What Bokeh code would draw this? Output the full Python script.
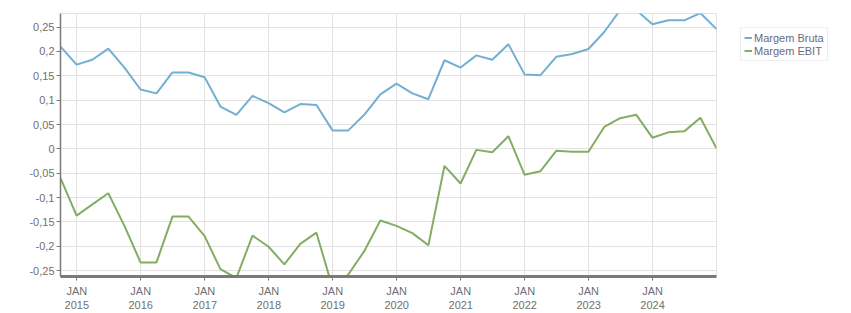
import pandas as pd
from bokeh.plotting import figure
from bokeh.layouts import row
from bokeh.models import (ColumnDataSource, Range1d, FixedTicker, Legend, LegendItem,
                          CustomJSTickFormatter)
from bokeh.embed import file_html
from bokeh.resources import INLINE

dates = ["2014-09-30", "2014-12-31",
         "2015-03-31", "2015-06-30", "2015-09-30", "2015-12-31",
         "2016-03-31", "2016-06-30", "2016-09-30", "2016-12-31",
         "2017-03-31", "2017-06-30", "2017-09-30", "2017-12-31",
         "2018-03-31", "2018-06-30", "2018-09-30", "2018-12-31",
         "2019-03-31", "2019-06-30", "2019-09-30", "2019-12-31",
         "2020-03-31", "2020-06-30", "2020-09-30", "2020-12-31",
         "2021-03-31", "2021-06-30", "2021-09-30", "2021-12-31",
         "2022-03-31", "2022-06-30", "2022-09-30", "2022-12-31",
         "2023-03-31", "2023-06-30", "2023-09-30", "2023-12-31",
         "2024-03-31", "2024-06-30", "2024-09-30", "2024-12-31"]

margem_bruta = [0.210, 0.173, 0.183, 0.206, 0.167, 0.122, 0.114, 0.157, 0.157, 0.147,
                0.087, 0.070, 0.109, 0.094, 0.075, 0.092, 0.090, 0.038, 0.038, 0.070,
                0.112, 0.134, 0.114, 0.102, 0.182, 0.167, 0.192, 0.183, 0.215, 0.153,
                0.151, 0.189, 0.195, 0.205, 0.240, 0.285, 0.285, 0.256, 0.264, 0.264,
                0.279, 0.246]

margem_ebit = [-0.060, -0.137, -0.114, -0.091, -0.158, -0.233, -0.233, -0.139, -0.139, -0.179,
               -0.247, -0.265, -0.178, -0.201, -0.237, -0.195, -0.172, -0.285, -0.258, -0.210,
               -0.147, -0.158, -0.173, -0.198, -0.035, -0.071, -0.002, -0.007, 0.026, -0.053,
               -0.046, -0.004, -0.006, -0.006, 0.045, 0.063, 0.070, 0.023, 0.034, 0.036,
               0.064, 0.001]

series_names = ["Margem Bruta", "Margem EBIT"]
series_cols = ["bruta", "ebit"]
series_colors = ["#74afd3", "#82ad62"]

x_tick_years = [2015, 2016, 2017, 2018, 2019, 2020, 2021, 2022, 2023, 2024]
y_ticks = [-0.25, -0.2, -0.15, -0.1, -0.05, 0, 0.05, 0.1, 0.15, 0.2, 0.25]
y_tick_labels = ["-0,25", "-0,2", "-0,15", "-0,1", "-0,05", "0", "0,05", "0,1", "0,15", "0,2", "0,25"]

x = pd.to_datetime(dates)
src = ColumnDataSource(dict(x=x, bruta=margem_bruta, ebit=margem_ebit))

FONT = "Liberation Sans"
TXT = "#707070"

p = figure(width=717, height=313, x_axis_type="datetime", output_backend="svg",
           toolbar_location=None, min_border_left=60, min_border_right=1,
           min_border_top=13, min_border_bottom=33)
p.x_range = Range1d(x[0], x[-1])
p.y_range = Range1d(-0.262, 0.278)

for col, c in zip(series_cols, series_colors):
    p.line("x", col, source=src, line_color=c, line_width=2)

xticks = [pd.Timestamp(f"{y}-01-01").value / 1e6 for y in x_tick_years]
p.xaxis.ticker = FixedTicker(ticks=xticks, minor_ticks=[])
p.xaxis.formatter = CustomJSTickFormatter(code="""
const d = new Date(tick);
return "JAN\\n" + d.getUTCFullYear();
""")
p.yaxis.ticker = FixedTicker(ticks=y_ticks, minor_ticks=[])
p.yaxis.major_label_overrides = {t: l for t, l in zip(y_ticks, y_tick_labels)}

for ax in (p.xaxis, p.yaxis):
    ax.major_label_text_font = FONT
    ax.major_label_text_font_size = "11px"
    ax.major_label_text_color = TXT
    ax.axis_line_color = "#7a7a7a"
    ax.major_tick_line_color = "#7a7a7a"
    ax.minor_tick_line_color = None
    ax.major_tick_in = 0
    ax.major_tick_out = 4
p.xaxis.axis_line_width = 3
p.yaxis.axis_line_width = 1.5
p.xaxis.major_label_standoff = 4
p.yaxis.major_label_standoff = 2

p.xgrid.grid_line_color = "#e2e2e2"
p.ygrid.grid_line_color = "#e2e2e2"
p.outline_line_color = "#e2e2e2"
p.background_fill_color = "white"
p.border_fill_color = "white"

# legend panel: a separate small figure to the right of the chart; its lines
# use the same data but fall outside its (0..1) ranges, so only the legend shows
lg = figure(width=134, height=313, output_backend="svg", toolbar_location=None,
            min_border=0, x_range=Range1d(0, 1), y_range=Range1d(0, 1))
lg.axis.visible = False
lg.grid.visible = False
lg.outline_line_color = None
lr = [lg.line("x", col, source=src, line_color=c, line_width=2)
      for col, c in zip(series_cols, series_colors)]

legend = Legend(items=[LegendItem(label=n, renderers=[r]) for n, r in zip(series_names, lr)],
                location=(23, 215))
legend.label_text_font = FONT
legend.label_text_font_size = "11px"
legend.label_text_color = "#6a6a80"
legend.border_line_color = "#dddddd"
legend.glyph_width = 8
legend.glyph_height = 13
legend.label_height = 13
legend.label_standoff = 2
legend.spacing = 0
legend.padding = 3
legend.margin = 0
lg.add_layout(legend, "center")

layout = row(p, lg, spacing=0)
open("out.html", "w").write(file_html(layout, INLINE))
